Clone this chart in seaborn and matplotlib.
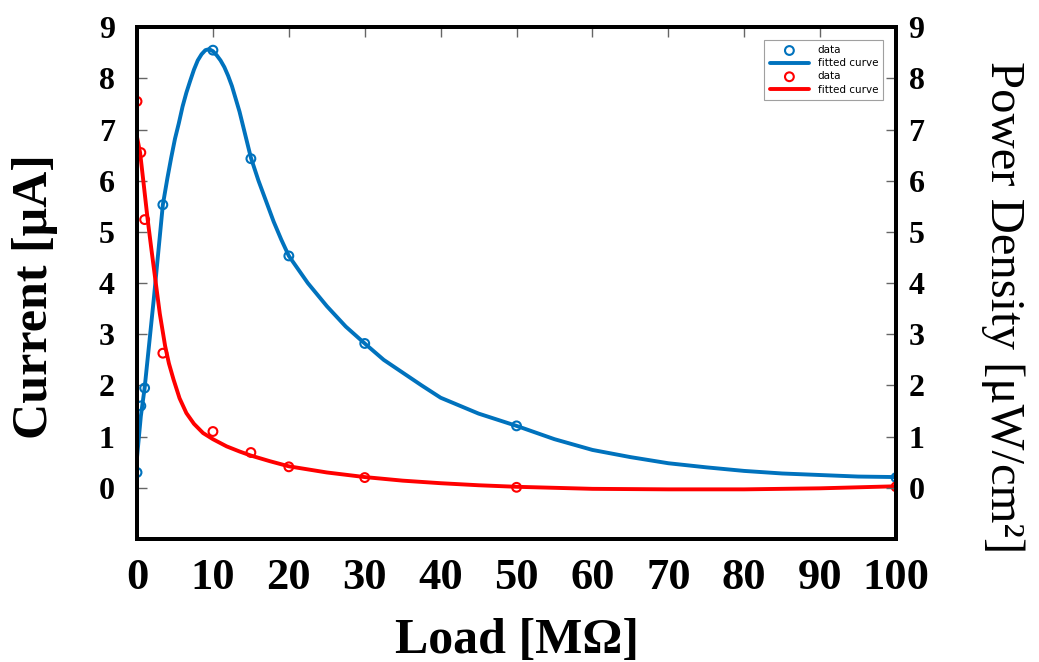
import numpy as np
import pandas as pd
import matplotlib
matplotlib.use("Agg")
import matplotlib.pyplot as plt
import seaborn as sns

# measured points
load_data = [0, 0.5, 1, 3.4, 10, 15, 20, 30, 50, 100]
power_data = [0.3, 1.6, 1.95, 5.53, 8.55, 6.43, 4.53, 2.82, 1.21, 0.2]
current_data = [7.55, 6.55, 5.24, 2.63, 1.1, 0.69, 0.41, 0.2, 0.01, 0.02]

# fitted curves
power_fit_x = [0, 0.5, 1, 2.2, 3.4, 4, 4.5, 5, 5.5, 6, 6.5, 7, 7.5, 8, 8.5, 9, 9.5,
               10, 10.5, 11, 11.5, 12, 12.5, 13, 13.5, 14, 14.5, 15, 16, 17, 18, 19,
               20, 22.5, 25, 27.5, 30, 32.5, 35, 37.5, 40, 45, 50, 55, 60, 65, 70,
               75, 80, 85, 90, 95, 100]
power_fit_y = [0.6, 1.4, 1.95, 3.68, 5.53, 6.05, 6.45, 6.82, 7.12, 7.45, 7.72, 7.95,
               8.17, 8.35, 8.47, 8.55, 8.57, 8.53, 8.45, 8.35, 8.22, 8.05, 7.85, 7.6,
               7.35, 7.05, 6.75, 6.45, 6.0, 5.6, 5.2, 4.85, 4.53, 4.0, 3.55, 3.15,
               2.82, 2.5, 2.25, 2.0, 1.76, 1.45, 1.21, 0.95, 0.74, 0.6, 0.48, 0.4,
               0.33, 0.28, 0.25, 0.22, 0.21]
current_fit_x = [0, 0.4, 0.9, 1.4, 1.9, 2.4, 3, 3.7, 4.2, 4.8, 5.6, 6.5, 7.5, 8.7,
                 10, 11.8, 13.5, 15, 17.5, 20, 25, 30, 35, 40, 45, 50, 55, 60, 70,
                 80, 90, 100]
current_fit_y = [6.85, 6.55, 5.9, 5.24, 4.65, 4.08, 3.4, 2.77, 2.43, 2.12, 1.75,
                 1.46, 1.25, 1.07, 0.95, 0.81, 0.71, 0.63, 0.52, 0.42, 0.3, 0.21,
                 0.14, 0.09, 0.05, 0.02, 0.0, -0.02, -0.03, -0.03, -0.01, 0.03]

blue = "#0072BD"
red = "#FF0000"

sns.set_style("white")
plt.rcParams['font.family'] = ['Liberation Serif', 'DejaVu Serif']
plt.rcParams['text.color'] = 'black'
plt.rcParams['axes.labelcolor'] = 'black'
plt.rcParams['xtick.labelcolor'] = 'black'
plt.rcParams['ytick.labelcolor'] = 'black'

fig = plt.figure(figsize=(10.39, 6.62), dpi=100)
ax = fig.add_axes([0.1319, 0.1858, 0.7305, 0.7732])

sns.scatterplot(x=load_data, y=power_data, ax=ax, marker="o", s=40,
                facecolor="none", edgecolor=blue, linewidth=1.5, label="data", zorder=3)
sns.lineplot(x=power_fit_x, y=power_fit_y, ax=ax, color=blue, lw=2.8,
             estimator=None, label="fitted curve")
sns.scatterplot(x=load_data, y=current_data, ax=ax, marker="o", s=40,
                facecolor="none", edgecolor=red, linewidth=1.5, label="data", zorder=3)
sns.lineplot(x=current_fit_x, y=current_fit_y, ax=ax, color=red, lw=2.8,
             estimator=None, label="fitted curve")

ax.set_xlim(0, 100)
ax.set_ylim(-1, 9)
ax.set_xticks(range(0, 101, 10))
ax.set_yticks(range(0, 10))
for s in ax.spines.values():
    s.set_linewidth(2.8)
    s.set_color("black")
ax.tick_params(axis="x", direction="in", top=True, length=7, width=1, color="#666666",
               labelsize=32, pad=14)
ax.tick_params(axis="y", direction="in", length=7, width=1, color="#666666",
               labelsize=23, pad=16)
for t in ax.get_xticklabels() + ax.get_yticklabels():
    t.set_fontweight("bold")
ax.set_xlabel("Load [MΩ]", fontsize=36, fontweight="bold", labelpad=14)
ax.set_ylabel("Current [μA]", fontsize=36, fontweight="bold", va="center")
ax.yaxis.set_label_coords(-0.134, 0.473)

ax2 = ax.twinx()
ax2.set_ylim(-1, 9)
ax2.set_yticks(range(0, 10))
ax2.tick_params(axis="y", direction="in", length=7, width=1, color="#666666",
                labelsize=23, pad=9)
for t in ax2.get_yticklabels():
    t.set_fontweight("bold")
ax2.set_ylabel("Power Density [μW/cm²]", fontsize=35, rotation=270, va="center")
ax2.yaxis.set_label_coords(1.141, 0.453)
for s in ax2.spines.values():
    s.set_linewidth(2.8)
    s.set_color("black")

leg = ax.legend(loc="upper right", frameon=True, fancybox=False,
                edgecolor="#888888", bbox_to_anchor=(0.99, 0.985),
                handlelength=3.8, borderpad=0.5, labelspacing=0.3,
                prop={"family": "DejaVu Sans", "size": 7.5})
leg.get_frame().set_linewidth(0.8)

fig.savefig("out.png", dpi=100)
